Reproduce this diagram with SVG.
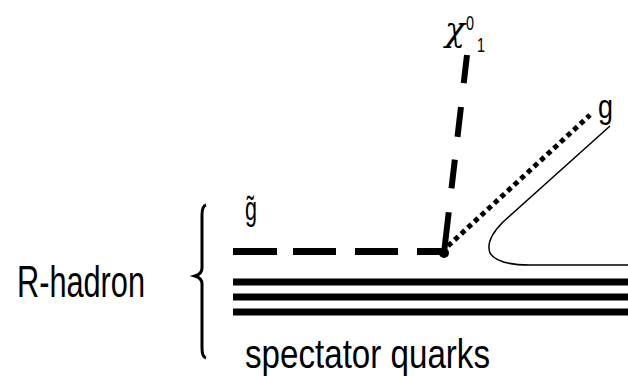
<svg xmlns="http://www.w3.org/2000/svg" width="628" height="376" viewBox="0 0 628 376">
<style>
  .lbl { font-family: "Liberation Sans", Arial, sans-serif; fill: #000; }
  .quark { stroke: #000; stroke-width: 7; fill: none; }
</style>
<rect width="628" height="376" fill="#fff"/>
<g id="connectors">
  <path id="gluino" d="M233,251.5 L444,251.5" stroke="#000" stroke-width="7" stroke-dasharray="44 16 43 19 43 19 30" fill="none"/>
  <path id="neutralino" d="M444,253 L467,55" stroke="#000" stroke-width="6" stroke-dasharray="41 24 29 23 30 24 29 23 29" fill="none"/>
  <path id="gluon" d="M448,246 L590,115" stroke="#000" stroke-width="5" stroke-dasharray="5 4" fill="none"/>
  <path id="string" d="M610,126 L503,222 Q485,240 490,253 Q497,265 530,265 L628,265" stroke="#000" stroke-width="1.5" fill="none"/>
  <line class="quark" x1="233" y1="282" x2="628" y2="282"/>
  <line class="quark" x1="233" y1="297" x2="628" y2="297"/>
  <line class="quark" x1="233" y1="312" x2="628" y2="312"/>
  <path id="brace" d="M206,205 Q202,206 202,215 L202,268 Q202,274 195,276 Q202,278 202,284 L202,348 Q202,357 206,358" stroke="#000" stroke-width="3" fill="none"/>
</g>
<g id="vertex"><circle cx="444" cy="253" r="5" fill="#000"/></g>
<g id="label-rhadron"><text class="lbl" x="17" y="297" font-size="45" textLength="128" lengthAdjust="spacingAndGlyphs">R-hadron</text></g>
<g id="label-spectator"><text class="lbl" x="245" y="368" font-size="41" textLength="245" lengthAdjust="spacingAndGlyphs">spectator quarks</text></g>
<g id="label-gluino"><text class="lbl" x="245" y="220" font-size="34" textLength="12" lengthAdjust="spacingAndGlyphs">g̃</text></g>
<g id="label-gluon"><text class="lbl" x="598" y="118" font-size="34" textLength="15" lengthAdjust="spacingAndGlyphs">g</text></g>
<g id="label-chi">
  <text x="445" y="41" font-family="DejaVu Serif, serif" font-style="italic" font-size="34" textLength="20" lengthAdjust="spacingAndGlyphs" fill="#000">χ</text>
  <text class="lbl" x="466" y="30" font-size="21" textLength="8" lengthAdjust="spacingAndGlyphs">0</text>
  <text class="lbl" x="477" y="52" font-size="20" textLength="8" lengthAdjust="spacingAndGlyphs">1</text>
</g>
</svg>
